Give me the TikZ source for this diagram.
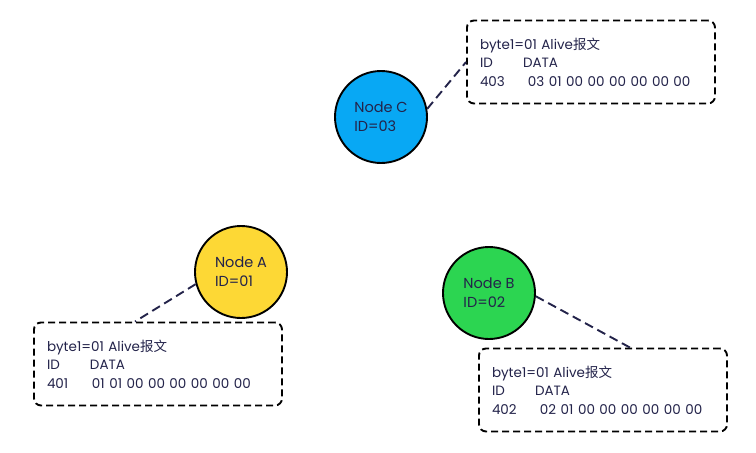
\documentclass[tikz,border=0pt]{standalone}
\usepackage{fontspec}
\setmainfont{Poppins}
\newfontfamily\cjk{Noto Sans CJK SC}
\definecolor{ink}{HTML}{23234A}
\definecolor{ecublue}{HTML}{08A8F4}
\definecolor{ecuyellow}{HTML}{FDD835}
\definecolor{ecugreen}{HTML}{2CD551}

\begin{document}
\begin{tikzpicture}[x=1pt,y=-1pt,
  ecu/.style={circle,draw=black,line width=1.9pt,minimum size=92pt,align=left,
    text=ink,font=\fontsize{14.5}{19}\selectfont},
  frame/.style={draw=black,line width=1.9pt,dash pattern=on 7pt off 4pt,rounded corners=7pt,
    minimum width=248pt,minimum height=83pt,text width=222pt,inner xsep=13pt,align=left,
    text=ink,font=\fontsize{13.5}{18.5}\selectfont},
  link/.style={draw=ink,line width=1.9pt,dash pattern=on 9pt off 5pt}]
  \useasboundingbox (0,0) rectangle (756,453);

  \node[ecu,fill=ecublue]   (ecuC) at (381,117) {Node C\\ID=03};
  \node[ecu,fill=ecuyellow] (ecuA) at (241,272) {Node A\\ID=01};
  \node[ecu,fill=ecugreen]  (ecuB) at (489,293) {Node B\\ID=02};

  \node[frame] (msgC) at (591,62) {byte1=01 Alive{\cjk 报文}\\
    \makebox[43pt][l]{ID}DATA\\ \makebox[48pt][l]{403}03 01 00 00 00 00 00 00};
  \node[frame] (msgA) at (158,364) {byte1=01 Alive{\cjk 报文}\\
    \makebox[43pt][l]{ID}DATA\\ \makebox[45pt][l]{401}01 01 00 00 00 00 00 00};
  \node[frame] (msgB) at (603,390) {byte1=01 Alive{\cjk 报文}\\
    \makebox[43pt][l]{ID}DATA\\ \makebox[48pt][l]{402}02 01 00 00 00 00 00 00};

  \draw[link] (ecuC.10)  -- (msgC.west);
  \draw[link] (ecuA.195) -- ([xshift=-23pt]msgA.north);
  \draw[link] (ecuB.-4)  -- ([xshift=27pt]msgB.north);
\end{tikzpicture}
\end{document}
